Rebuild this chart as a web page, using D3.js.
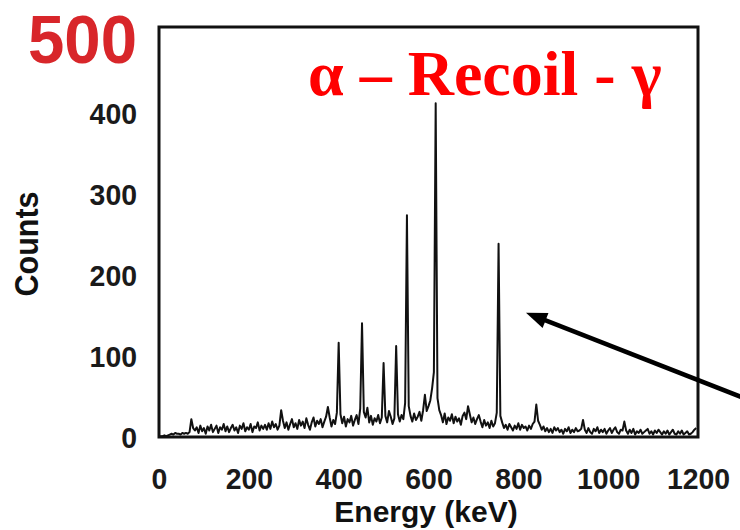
<!DOCTYPE html>
<html>
<head>
<meta charset="utf-8">
<script src="https://cdn.jsdelivr.net/npm/d3@7"></script>
<style>
  html, body { margin: 0; padding: 0; background: #fff; }
  svg { display: block; }
</style>
</head>
<body>
<script>
// Gamma-ray spectrum gated on alpha–recoil correlations (4 keV bins starting at 0 keV)
const binWidth = 4;
const counts = [
  0,1,1,2,1,2,
  3,4,3,5,4,4,3,5,4,5,4,6,
  22,
  11,8,
  12,5,14,7,11,4,13,8,15,6, 10,14,5,12,9,16,7,13,6,11,
  15,8,12,5,14,10,17,7,12,9, 16,6,13,11,18,8,14,10,15,9,
  17,10,19,12,16,9,14,
  33,
  20,11,18,9,16,22,12,17,10,21, 14,19,11,23,15,9,18,24,13,20, 16,22,12,19,25,
  37,
  24,13,21,16,
  30,116,28,
  17,25,13,22,18,26,14,21,27,16,
  35,140,31,24,36,
  18,26,15,23,19,27,17,24,
  91,26,18,32,
  25,16,23,
  112,28,
  19,27,22,
  42,273,38,
  26,19,29,21,25,31,20,33,
  52,32,38,45,60,80,411,48,33,
  27,18,29,16,24,20,28,17,25,19,23,15,26,30,22,
  38,
  28,18,24,16,22,
  27,
  19,12,21,14,18,11,20,13,17,
  30,238,26,
  18,11,15,9,16,12,8,14,10,17, 9,15,11,13,8,14,10,16,19,
  40,20,
  15,9,13,7,11,6,10,5,12,8, 11,6,9,4,10,7,12,5,9,6, 11,7,8,10,
  21,
  9,5,11,6,4,10,7,12,5,9, 6,10,4,8,11,5,9,12,6,4,9,8,
  19,
  8,4,9,5,10,3,7,5,9,4, 6,8,10,4,7,3,8,5,9,6, 3,7,4,8,3,6,9,4,3,7, 4,8,3,5,7,3,4,6,9,11
];
const energies = counts.map((_, i) => i * binWidth);

const xTicks = [0, 200, 400, 600, 800, 1000, 1200];
const yTicks = [0, 100, 200, 300, 400, 500];
const highlightTick = 500;

const titleText = "α – Recoil - γ";
const xTitle = "Energy (keV)";
const yTitle = "Counts";

// arrow annotation, in data units (energy keV, counts)
const arrowTail = [1330, 42];
const arrowTip = [817, 153];

const W = 740, H = 530;
const svg = d3.select("body").append("svg").attr("width", W).attr("height", H);

const x = d3.scaleLinear().domain([0, 1200]).range([159, 698]);
const y = d3.scaleLinear().domain([0, 505]).range([437, 27]);

const sans = "'Liberation Sans', Arial, Helvetica, sans-serif";
const serif = "'Liberation Serif', 'Times New Roman', serif";

// clip for spectrum
svg.append("defs").append("clipPath").attr("id", "plot-clip")
  .append("rect")
  .attr("x", x(0)).attr("y", y(505))
  .attr("width", x(1200) - x(0)).attr("height", y(0) - y(505));

const data = energies.map((e, i) => ({ e, c: counts[i] }));

svg.append("path")
  .datum(data)
  .attr("clip-path", "url(#plot-clip)")
  .attr("fill", "none")
  .attr("stroke", "#111")
  .attr("stroke-width", 2)
  .attr("stroke-linejoin", "round")
  .attr("d", d3.line().x(d => x(d.e)).y(d => y(d.c)));

// frame
svg.append("rect")
  .attr("x", x(0)).attr("y", y(505))
  .attr("width", x(1200) - x(0)).attr("height", y(0) - y(505))
  .attr("fill", "none")
  .attr("stroke", "#111")
  .attr("stroke-width", 3);

// x axis
const gx = svg.append("g")
  .attr("transform", `translate(0,${y(0)})`)
  .call(d3.axisBottom(x).tickValues(xTicks).tickSize(0).tickPadding(31).tickFormat(d3.format("d")));
gx.select(".domain").remove();
gx.selectAll("text")
  .attr("font-family", sans).attr("font-weight", "bold").attr("font-size", 30)
  .attr("fill", "#1a1a1a")
  .attr("textLength", d => String(d).length * 15.8)
  .attr("lengthAdjust", "spacingAndGlyphs");

// y axis
const gy = svg.append("g")
  .attr("transform", `translate(${x(0)},0)`)
  .call(d3.axisLeft(y).tickValues(yTicks).tickSize(0).tickPadding(22).tickFormat(d3.format("d")));
gy.select(".domain").remove();
gy.selectAll("text")
  .attr("font-family", sans).attr("font-weight", "bold")
  .attr("font-size", d => d === highlightTick ? 68 : 30)
  .attr("fill", d => d === highlightTick ? "#d8262a" : "#1a1a1a")
  .attr("dy", d => d === highlightTick ? "0.46em" : "0.36em")
  .attr("textLength", d => d === highlightTick ? 109 : String(d).length * 15.8)
  .attr("lengthAdjust", "spacingAndGlyphs");

// axis titles
svg.append("text")
  .attr("x", 426).attr("y", 522)
  .attr("text-anchor", "middle")
  .attr("font-family", sans).attr("font-weight", "bold").attr("font-size", 30)
  .attr("fill", "#111")
  .text(xTitle);

svg.append("text")
  .attr("transform", "translate(38,244) rotate(-90)")
  .attr("text-anchor", "middle")
  .attr("font-family", sans).attr("font-weight", "bold").attr("font-size", 33)
  .attr("textLength", 105).attr("lengthAdjust", "spacingAndGlyphs")
  .attr("fill", "#111")
  .text(yTitle);

// red title inside the plot
svg.append("text")
  .attr("x", 308).attr("y", 95)
  .attr("font-family", serif).attr("font-weight", "bold").attr("font-size", 64)
  .attr("fill", "#ff0000")
  .text(titleText);

// arrow pointing at the spectrum
const tx = x(arrowTip[0]), ty = y(arrowTip[1]);
const sx = x(arrowTail[0]), sy = y(arrowTail[1]);
const ang = Math.atan2(ty - sy, tx - sx);
const headLen = 21, headHalf = 8;
const bx = tx - headLen * Math.cos(ang), by = ty - headLen * Math.sin(ang);
svg.append("line")
  .attr("x1", sx).attr("y1", sy).attr("x2", bx + 2 * Math.cos(ang)).attr("y2", by + 2 * Math.sin(ang))
  .attr("stroke", "#000").attr("stroke-width", 4.5);
svg.append("path")
  .attr("d", d3.line()([
    [tx, ty],
    [bx + headHalf * Math.sin(ang), by - headHalf * Math.cos(ang)],
    [bx - headHalf * Math.sin(ang), by + headHalf * Math.cos(ang)]
  ]) + "Z")
  .attr("fill", "#000");
</script>
</body>
</html>
